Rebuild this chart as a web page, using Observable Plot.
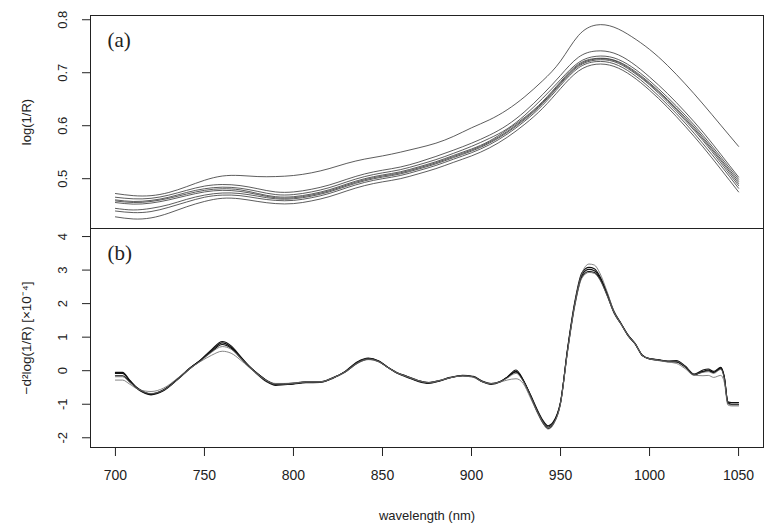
<!DOCTYPE html>
<html><head><meta charset="utf-8">
<script src="https://cdn.jsdelivr.net/npm/d3@7"></script>
<script src="https://cdn.jsdelivr.net/npm/@observablehq/plot@0.6"></script>
<style>
body{margin:0;background:#fff;}
#chart{position:relative;width:774px;height:532px;background:#fff;overflow:hidden;}
#chart svg{position:absolute;left:0;}
</style></head><body><div id="chart"></div>
<script>
// ---- Panel (a): log(1/R) spectra ----
const wavelengthA = [700,710,720,730,740,750,760,770,780,790,800,810,820,830,840,850,860,870,880,890,900,910,920,930,940,950,960,970,980,990,1000,1010,1020,1030,1040,1050];
const specO  = [0.472,0.468,0.468,0.474,0.485,0.497,0.505,0.506,0.504,0.504,0.506,0.511,0.519,0.529,0.537,0.543,0.550,0.558,0.567,0.580,0.596,0.611,0.630,0.655,0.685,0.722,0.770,0.790,0.786,0.768,0.744,0.714,0.679,0.641,0.601,0.561];
const specB1 = [0.465,0.462,0.463,0.469,0.478,0.486,0.489,0.487,0.481,0.475,0.475,0.480,0.488,0.499,0.509,0.516,0.522,0.531,0.542,0.554,0.567,0.582,0.601,0.627,0.659,0.695,0.729,0.741,0.737,0.719,0.692,0.661,0.626,0.588,0.546,0.503];
const specB2 = [0.460,0.457,0.459,0.465,0.474,0.481,0.484,0.482,0.476,0.470,0.470,0.475,0.483,0.494,0.504,0.511,0.517,0.526,0.536,0.548,0.561,0.576,0.594,0.620,0.652,0.687,0.719,0.731,0.728,0.711,0.685,0.654,0.620,0.582,0.541,0.499];
const specB3 = [0.458,0.455,0.457,0.463,0.471,0.478,0.481,0.479,0.472,0.466,0.466,0.471,0.479,0.490,0.500,0.507,0.513,0.522,0.532,0.544,0.556,0.571,0.592,0.616,0.646,0.683,0.716,0.727,0.724,0.707,0.681,0.650,0.616,0.578,0.537,0.495];
const specB4 = [0.455,0.452,0.454,0.460,0.468,0.475,0.478,0.476,0.470,0.464,0.464,0.469,0.477,0.488,0.498,0.505,0.511,0.520,0.530,0.542,0.554,0.569,0.589,0.614,0.644,0.681,0.714,0.726,0.723,0.705,0.679,0.648,0.613,0.575,0.534,0.491];
const specB5 = [0.444,0.441,0.444,0.451,0.461,0.469,0.473,0.472,0.467,0.462,0.462,0.467,0.475,0.486,0.496,0.503,0.509,0.518,0.528,0.540,0.552,0.567,0.587,0.612,0.642,0.679,0.712,0.724,0.721,0.703,0.677,0.645,0.610,0.572,0.530,0.487];
const specB6 = [0.439,0.436,0.438,0.446,0.456,0.465,0.469,0.468,0.463,0.459,0.459,0.464,0.472,0.483,0.493,0.500,0.506,0.515,0.525,0.537,0.549,0.564,0.584,0.609,0.639,0.676,0.709,0.721,0.717,0.699,0.672,0.640,0.605,0.566,0.525,0.482];
const specB7 = [0.428,0.424,0.426,0.435,0.447,0.457,0.463,0.462,0.457,0.453,0.453,0.458,0.466,0.477,0.487,0.494,0.500,0.509,0.519,0.531,0.543,0.558,0.578,0.603,0.633,0.670,0.703,0.716,0.712,0.694,0.667,0.635,0.599,0.560,0.518,0.475];

// ---- Panel (b): second derivative ----
const wavelengthB = [700,704,708,713,720,727,735,742,748,754,760,765,770,775,780,785,790,795,800,807,815,822,829,836,842,848,853,858,864,870,876,882,888,895,901,906,911,916,920,925,929,933,937,940,943,946,950,954,958,962,966,969,972,976,980,984,988,992,996,1000,1005,1010,1015,1020,1025,1030,1033,1036,1040,1042,1044,1046,1050];
const derivD1 = [-0.05,-0.05,-0.28,-0.55,-0.70,-0.58,-0.25,0.08,0.32,0.60, 0.83,0.70,0.42,0.14,-0.10,-0.30,-0.41,-0.40,-0.38,-0.34, -0.34,-0.22,-0.03,0.25,0.36,0.28,0.10,-0.06,-0.18,-0.30, -0.36,-0.30,-0.21,-0.15,-0.18,-0.32,-0.39,-0.33,-0.20,-0.02, -0.28,-0.72,-1.20,-1.50,-1.68,-1.55,-0.95,0.65,2.00,2.85, 3.02,2.98,2.78,2.30,1.75,1.40,1.05,0.80,0.45,0.36, 0.32,0.28,0.27,0.12,-0.12,-0.02,0.02,-0.05,0.08,-0.20, -0.95,-1.00,-1.00];
const derivD2 = [-0.15,-0.15,-0.33,-0.57,-0.72,-0.60,-0.26,0.07,0.33,0.63, 0.87,0.74,0.44,0.14,-0.12,-0.33,-0.44,-0.42,-0.40,-0.36, -0.35,-0.23,-0.02,0.27,0.38,0.29,0.10,-0.07,-0.20,-0.32, -0.38,-0.31,-0.21,-0.14,-0.18,-0.33,-0.41,-0.34,-0.19,0.02, -0.27,-0.74,-1.24,-1.55,-1.72,-1.58,-0.96,0.68,2.05,2.92, 3.08,3.04,2.82,2.33,1.77,1.41,1.06,0.80,0.46,0.36, 0.33,0.29,0.30,0.14,-0.10,0.02,0.05,-0.02,0.10,-0.18, -0.93,-0.95,-0.95];
const derivD3 = [-0.08,-0.08,-0.30,-0.54,-0.69,-0.57,-0.24,0.09,0.31,0.57, 0.78,0.67,0.40,0.13,-0.09,-0.29,-0.40,-0.39,-0.37,-0.33, -0.33,-0.21,-0.04,0.23,0.34,0.27,0.10,-0.05,-0.17,-0.29, -0.35,-0.29,-0.20,-0.15,-0.17,-0.31,-0.38,-0.32,-0.20,-0.04, -0.29,-0.70,-1.17,-1.47,-1.64,-1.52,-0.93,0.62,1.96,2.80, 2.96,2.93,2.74,2.27,1.73,1.39,1.04,0.79,0.45,0.35, 0.31,0.27,0.26,0.11,-0.12,-0.03,0.00,-0.06,0.06,-0.22, -0.97,-1.00,-1.00];
const derivD4 = [-0.28,-0.28,-0.40,-0.56,-0.62,-0.52,-0.22,0.08,0.28,0.46, 0.58,0.52,0.33,0.10,-0.12,-0.30,-0.38,-0.38,-0.37,-0.33, -0.33,-0.22,-0.05,0.22,0.33,0.26,0.09,-0.06,-0.18,-0.29, -0.35,-0.29,-0.21,-0.16,-0.20,-0.33,-0.38,-0.34,-0.28,-0.24, -0.38,-0.80,-1.25,-1.55,-1.74,-1.60,-0.98,0.60,2.00,2.90, 3.18,3.15,2.92,2.38,1.78,1.40,1.05,0.80,0.45,0.35, 0.30,0.26,0.22,0.06,-0.14,-0.15,-0.14,-0.20,-0.14,-0.35, -1.02,-1.05,-1.05];
const derivD5 = [-0.18,-0.18,-0.34,-0.55,-0.68,-0.58,-0.26,0.06,0.30,0.55, 0.72,0.64,0.40,0.13,-0.10,-0.30,-0.40,-0.40,-0.38,-0.34, -0.34,-0.22,-0.03,0.24,0.35,0.27,0.10,-0.06,-0.18,-0.30, -0.36,-0.30,-0.21,-0.15,-0.18,-0.32,-0.39,-0.33,-0.22,-0.08, -0.31,-0.74,-1.22,-1.52,-1.70,-1.57,-0.97,0.58,1.92,2.76, 2.93,2.90,2.72,2.26,1.73,1.38,1.04,0.79,0.45,0.36, 0.32,0.28,0.28,0.12,-0.11,-0.05,-0.03,-0.08,0.04,-0.24, -0.98,-1.02,-1.02];

// ---- Ticks & labels ----
const xTicks = [700,750,800,850,900,950,1000,1050];
const yTicksA = [0.5,0.6,0.7,0.8];
const yTicksB = [-2,-1,0,1,2,3,4];
const labelA = "(a)", labelB = "(b)";
const yTitleA = "log(1/R)";
const yTitleB = "\u2212d\u00b2log(1/R) [\u00d710\u207b\u2074]";
const xTitle = "wavelength (nm)";

const seriesA = {O: specO, B1: specB1, B2: specB2, B3: specB3, B4: specB4, B5: specB5, B6: specB6, B7: specB7};
const rowsA = Object.entries(seriesA).flatMap(([s, vals]) => vals.map((v, i) => ({w: wavelengthA[i], v, s})));
const seriesB = {D1: derivD1, D2: derivD2, D3: derivD3, D4: derivD4, D5: derivD5};
const grayB = new Set(["D4", "D5"]);
const rowsB = Object.entries(seriesB).flatMap(([s, vals]) => vals.map((v, i) => ({w: wavelengthB[i], v, s})));

const font = "'Liberation Sans', Arial, sans-serif";
const serif = "'Liberation Serif', 'Times New Roman', serif";
const xDomain = [686, 1064];

const panelA = Plot.plot({
  width: 774, height: 240,
  marginTop: 15, marginBottom: 12, marginLeft: 90, marginRight: 11,
  style: {background: "transparent", fontFamily: font, fontSize: "13px", color: "#222"},
  x: {domain: xDomain, axis: null},
  y: {domain: [0.406, 0.808], ticks: yTicksA, tickSize: 8, tickFormat: () => "", label: null},
  marks: [
    Plot.line(rowsA, {x: "w", y: "v", z: "s", curve: "natural", stroke: "#333", strokeWidth: 0.8}),
    Plot.frame({stroke: "#222", strokeWidth: 1}),
    Plot.text(yTicksA, {y: d => d, text: d => String(d), frameAnchor: "left", dx: -28, rotate: -90, fontSize: 13, textAnchor: "middle", lineAnchor: "middle", fill: "#222"}),
    Plot.text([yTitleA], {frameAnchor: "left", dx: -64, rotate: -90, fontSize: 13, textAnchor: "middle", lineAnchor: "middle", fill: "#222"}),
    Plot.text([labelA], {frameAnchor: "top-left", dx: 17, dy: 17, fontSize: 21, fontFamily: serif, textAnchor: "start", lineAnchor: "top", fill: "#222"})
  ]
});
panelA.style.top = "0px";

const panelB = Plot.plot({
  width: 774, height: 312,
  marginTop: 8, marginBottom: 85, marginLeft: 90, marginRight: 11,
  style: {background: "transparent", fontFamily: font, fontSize: "14px", color: "#222"},
  x: {domain: xDomain, ticks: xTicks, tickSize: 9, tickFormat: () => "", label: null},
  y: {domain: [-2.29, 4.24], ticks: yTicksB, tickSize: 8, tickFormat: () => "", label: null},
  marks: [
    Plot.line(rowsB, {x: "w", y: "v", z: "s", curve: "monotone-x", stroke: d => grayB.has(d.s) ? "#666" : "#111", strokeWidth: d => grayB.has(d.s) ? 0.8 : 1.1}),
    Plot.frame({stroke: "#222", strokeWidth: 1}),
    Plot.text(yTicksB, {y: d => d, text: d => String(d), frameAnchor: "left", dx: -28, rotate: -90, fontSize: 13, textAnchor: "middle", lineAnchor: "middle", fill: "#222"}),
    Plot.text([yTitleB], {frameAnchor: "left", dx: -64, rotate: -90, fontSize: 13.5, textAnchor: "middle", lineAnchor: "middle", fill: "#222"}),
    Plot.text(xTicks, {x: d => d, text: d => String(d), frameAnchor: "bottom", dy: 28, fontSize: 14, textAnchor: "middle", lineAnchor: "middle", fill: "#222"}),
    Plot.text([xTitle], {frameAnchor: "bottom", dy: 68, fontSize: 13, textAnchor: "middle", lineAnchor: "middle", fill: "#222"}),
    Plot.text([labelB], {frameAnchor: "top-left", dx: 17, dy: 17, fontSize: 21, fontFamily: serif, textAnchor: "start", lineAnchor: "top", fill: "#222"})
  ]
});
panelB.style.top = "220px";

document.getElementById("chart").append(panelA, panelB);
</script></body></html>
